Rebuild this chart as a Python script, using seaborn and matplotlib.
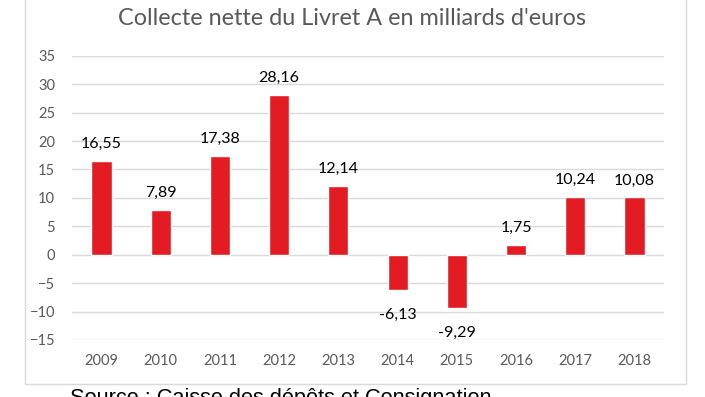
import matplotlib
matplotlib.use("Agg")
import matplotlib.pyplot as plt
import seaborn as sns
import pandas as pd
from matplotlib.patches import Rectangle

# Livret A net inflows, billions of euros
years = ["2009", "2010", "2011", "2012", "2013", "2014", "2015", "2016", "2017", "2018"]
collecte = [16.55, 7.89, 17.38, 28.16, 12.14, -6.13, -9.29, 1.75, 10.24, 10.08]
yticks = [-15, -10, -5, 0, 5, 10, 15, 20, 25, 30, 35]

df = pd.DataFrame({"annee": years, "collecte": collecte})

sns.set_style("white")
plt.rcParams["font.family"] = ["Lato", "DejaVu Sans"]

fig = plt.figure(figsize=(7.05, 3.97), dpi=100)
ax = fig.add_axes([0.102, 0.1436, 0.840, 0.716])

sns.barplot(data=df, x="annee", y="collecte", color="#E31C23", saturation=1,
            width=0.34, ax=ax, zorder=3)

ax.set_ylim(-15, 35)
ax.set_yticks(yticks)
ax.yaxis.grid(True, color="#D9D9D9", linewidth=1, zorder=0)
ax.set_axisbelow(True)
for s in ax.spines.values():
    s.set_visible(False)
ax.set_xlabel("")
ax.set_ylabel("")
ax.tick_params(axis="both", length=0, labelsize=10.5, labelcolor="#595959")
ax.tick_params(axis="x", pad=10)
ax.tick_params(axis="y", pad=12)

# value labels, french decimal comma; negatives sit a bit lower
fmt = [f"{v:.2f}".replace(".", ",") for v in collecte]
pos_labels = [t if v >= 0 else "" for t, v in zip(fmt, collecte)]
neg_labels = [t if v < 0 else "" for t, v in zip(fmt, collecte)]
ax.bar_label(ax.containers[0], labels=pos_labels, padding=7, fontsize=11.5, color="#000000")
ax.bar_label(ax.containers[0], labels=neg_labels, padding=13, fontsize=11.5, color="#000000")

fig.text(0.5, 0.953, "Collecte nette du Livret A en milliards d'euros",
         ha="center", va="center", fontsize=16.8, color="#595959")

# chart frame
fig.patches.append(Rectangle((25 / 705, 13 / 397), 661 / 705, 1.1, transform=fig.transFigure,
                             fill=False, edgecolor="#D9D9D9", linewidth=1))

fig.text(70 / 705, 9 / 397, "Source : Caisse des dépôts et Consignation",
         ha="left", va="top", fontsize=15.7, color="#000000", family="Liberation Sans")

fig.savefig("out.png", dpi=100)
